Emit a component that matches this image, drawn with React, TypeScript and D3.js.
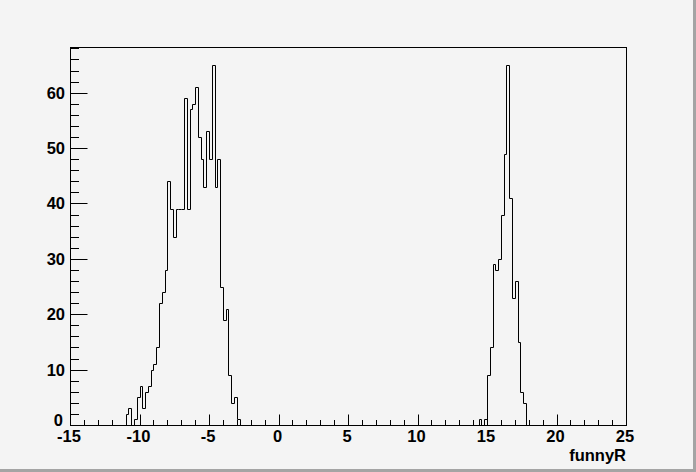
import { useEffect, useRef } from "react";
import * as d3 from "d3";

// bin counts, bin width 0.2
const binWidth = 0.2;
const leftStart = -11.0;
const leftCounts = [2, 3, 0, 1, 5, 7, 3, 6, 7, 10, 11, 14, 22, 24, 28, 44, 39, 34, 39, 39, 39, 59, 39, 57, 58, 61, 52, 48, 43, 53, 48, 65, 43, 48, 25, 19, 21, 9, 4, 5, 1];
const rightStart = 14.4;
const rightCounts = [1, 0, 1, 9, 14, 29, 28, 30, 38, 49, 65, 41, 23, 26, 15, 6, 4];
const xTicks = [-15, -10, -5, 0, 5, 10, 15, 20, 25];
const yTicks = [0, 10, 20, 30, 40, 50, 60];
const xTitle = "funnyR";

function App() {
  const canvas = useRef<SVGSVGElement>(null);

  useEffect(() => {
    const width = 696;
    const height = 472;
    const frame = { left: 70, right: 626, top: 47, bottom: 425 };
    const svg = d3.select(canvas.current);
    svg.selectAll("*").remove();

    // canvas background with bevel
    svg.append("rect").attr("width", width).attr("height", height).attr("fill", "#f4f4f4");
    svg.append("rect").attr("x", width - 3).attr("y", 0).attr("width", 3).attr("height", height).attr("fill", "#a4a4a4");
    svg.append("rect").attr("x", 0).attr("y", height - 3).attr("width", width).attr("height", 3).attr("fill", "#a4a4a4");

    const x = d3.scaleLinear().domain([-15, 25]).range([frame.left, frame.right]);
    const y = d3.scaleLinear().domain([0, 68.25]).range([frame.bottom, frame.top]);

    const font = "'Liberation Sans', Arial, Helvetica, sans-serif";
    const fs = 16.5;

    // histogram outline
    const bins: [number, number][] = [];
    leftCounts.forEach((c, i) => bins.push([leftStart + i * binWidth, c]));
    rightCounts.forEach((c, i) => bins.push([rightStart + i * binWidth, c]));
    let d = "";
    bins.forEach(([lo, c], i) => {
      const x0 = Math.round(x(lo)) + 0.5;
      const x1 = Math.round(x(lo + binWidth)) + 0.5;
      const yv = Math.round(y(c)) + 0.5;
      const prev = bins[i - 1];
      const contiguous = prev && Math.abs(prev[0] + binWidth - lo) < 1e-6;
      if (!contiguous) d += `M${x0},${frame.bottom + 0.5}`;
      d += `L${x0},${yv}L${x1},${yv}`;
      const next = bins[i + 1];
      if (!next || Math.abs(lo + binWidth - next[0]) > 1e-6) d += `L${x1},${frame.bottom + 0.5}`;
    });
    svg.append("path").attr("d", d).attr("fill", "none").attr("stroke", "#000").attr("stroke-width", 1);

    // frame
    svg.append("rect")
      .attr("x", frame.left + 0.5).attr("y", frame.top + 0.5)
      .attr("width", frame.right - frame.left).attr("height", frame.bottom - frame.top)
      .attr("fill", "none").attr("stroke", "#000");

    const axes = svg.append("g").attr("stroke", "#000").attr("stroke-width", 1);
    // x ticks
    d3.range(-15, 26, 1).forEach((v) => {
      const len = v % 5 === 0 ? 11 : 5.5;
      const px = Math.round(x(v)) + 0.5;
      axes.append("line").attr("x1", px).attr("x2", px)
        .attr("y1", frame.bottom + 0.5).attr("y2", frame.bottom + 0.5 - len);
    });
    // y ticks
    d3.range(0, 68.25, 2).forEach((v) => {
      const len = v % 10 === 0 ? 17 : 8.5;
      const py = Math.round(y(v)) + 0.5;
      axes.append("line").attr("x1", frame.left + 0.5).attr("x2", frame.left + 0.5 + len)
        .attr("y1", py).attr("y2", py);
    });

    svg.append("g").selectAll("text").data(xTicks).join("text")
      .attr("x", (v) => x(v) - 1)
      .attr("y", 442)
      .attr("text-anchor", "middle")
      .attr("font-family", font).attr("font-weight", "bold").attr("font-size", fs)
      .text((v) => v);

    svg.append("g").selectAll("text").data(yTicks).join("text")
      .attr("x", (v) => (v === 0 ? 63 : 65))
      .attr("y", (v) => (v === 0 ? y(v) + 1 : y(v) + 6))
      .attr("text-anchor", "end")
      .attr("font-family", font).attr("font-weight", "bold").attr("font-size", fs)
      .text((v) => v);

    svg.append("text")
      .attr("x", frame.right).attr("y", 461)
      .attr("text-anchor", "end")
      .attr("font-family", font).attr("font-weight", "bold").attr("font-size", fs)
      .text(xTitle);
  }, []);

  return (
    <svg ref={canvas} width={696} height={472} style={{ position: "absolute", left: 0, top: 0 }} />
  );
}

export default App;
